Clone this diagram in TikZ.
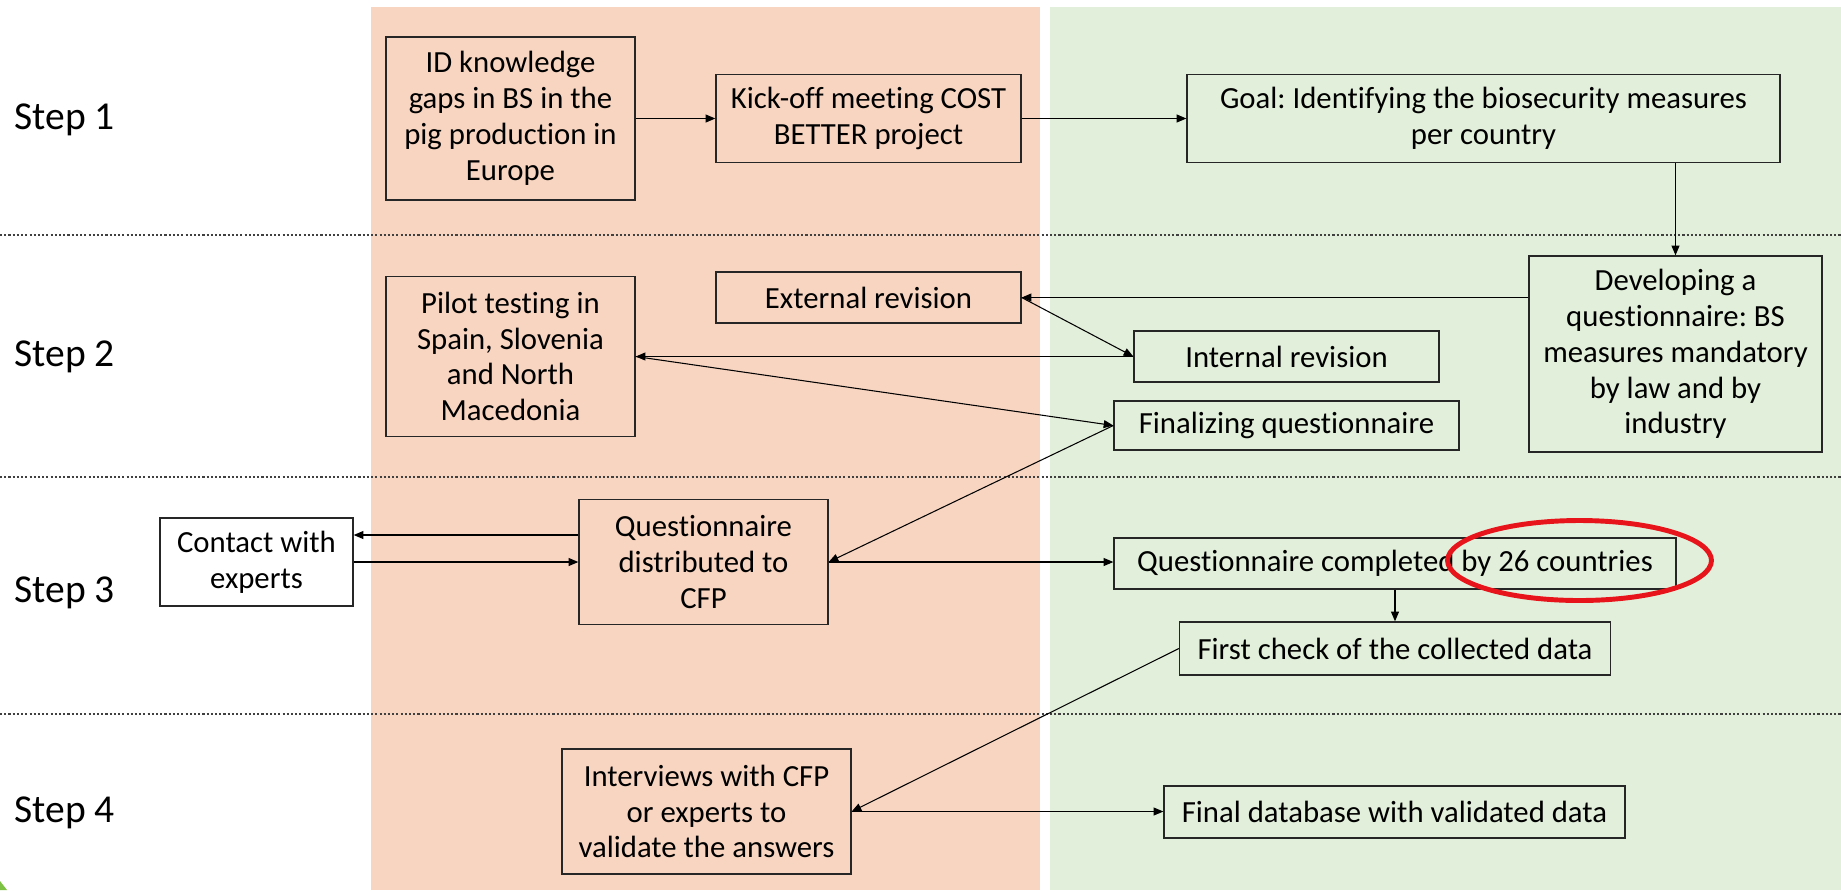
\documentclass[tikz,border=0pt]{standalone}
\usepackage{fontspec}
\setmainfont[Ligatures={NoCommon}]{Carlito}
\usetikzlibrary{positioning,calc,arrows.meta}
\definecolor{peachbg}{HTML}{F8D5C1}
\definecolor{sagebg}{HTML}{E2EFDA}
\definecolor{ringred}{HTML}{E8141B}
\definecolor{slidegreen}{HTML}{7DC242}
\frenchspacing

\begin{document}
\begin{tikzpicture}[x=0.02cm, y=-0.02cm,
  box/.style={draw=black!85, line width=0.8pt, align=center, inner sep=0pt,
    font=\fontsize{17.5}{20.4}\selectfont},
  arr/.style={line width=0.6pt, -{Triangle[length=5.5pt,width=4.5pt]}},
  sep/.style={line width=0.6pt, black!75, dash pattern=on 1.2pt off 1.2pt}]
  \useasboundingbox (0,0) rectangle (1841,890);

  % Background columns (peach: 371..1040, green: 1050..1841)
  \fill[peachbg] (371,7) rectangle (1040,890);
  \fill[sagebg] (1050,7) rectangle (1841,890);
  \fill[slidegreen] (0,881) -- (7,890) -- (0,890) -- cycle;

  % Step separators
  \foreach \ypos in {235, 477, 714} {
    \draw[sep] (0,\ypos) -- (1841,\ypos);
  }

  % Step labels
  \foreach \k/\ypos in {1/120, 2/357, 3/593, 4/813} {
    \node[anchor=west, inner sep=0pt, font=\fontsize{22.5}{27}\selectfont] (step\k) at (14,\ypos) {Step \k};
  }

  % Step 1
  \node[box, fill=peachbg, minimum width=4.98cm, minimum height=3.26cm] (idgaps) at (510.5,118.5)
    {ID knowledge\\gaps in BS in the\\pig production in\\Europe};
  \node[box, fill=peachbg, minimum width=6.1cm, minimum height=1.76cm] (kickoff) at (868.5,118.5)
    {Kick-off meeting COST\\BETTER project};
  \node[box, fill=sagebg, minimum width=11.86cm, minimum height=1.76cm] (goal) at (1483.5,118.5)
    {Goal: Identifying the biosecurity measures\\per country};

  % Step 2
  \node[box, fill=sagebg, minimum width=5.86cm, minimum height=3.92cm] (develop) at (1675.5,354)
    {Developing a\\questionnaire: BS\\measures mandatory\\by law and by\\industry};
  \node[box, fill=peachbg, minimum width=6.1cm, minimum height=1.02cm] (extrev) at (868.5,297.5)
    {External revision};
  \node[box, fill=sagebg, minimum width=6.1cm, minimum height=1.02cm] (intrev) at (1286.5,356.5)
    {Internal revision};
  \node[box, fill=peachbg, minimum width=4.98cm, minimum height=3.2cm] (pilot) at (510.5,356.5)
    {Pilot testing in\\Spain, Slovenia\\and North\\Macedonia};
  \node[box, fill=sagebg, minimum width=6.9cm, minimum height=0.98cm] (finalq) at (1286.5,425.5)
    {Finalizing questionnaire};

  % Step 3
  \node[box, fill=white, minimum width=3.86cm, minimum height=1.76cm] (contact) at (256.5,562)
    {Contact with\\experts};
  \node[box, fill=peachbg, minimum width=4.98cm, minimum height=2.5cm] (distrib) at (703.5,562)
    {Questionnaire\\distributed to\\CFP};
  \node[box, fill=sagebg, minimum width=11.24cm, minimum height=1.02cm] (completed) at (1395,563.5)
    {Questionnaire completed by 26 countries};
  \node[box, fill=sagebg, minimum width=8.62cm, minimum height=1.06cm] (firstcheck) at (1395,648.5)
    {First check of the collected data};

  % Step 4
  \node[box, fill=peachbg, minimum width=5.78cm, minimum height=2.5cm] (interviews) at (706.5,811.5)
    {Interviews with CFP\\or experts to\\validate the answers};
  \node[box, fill=sagebg, minimum width=9.22cm, minimum height=1.04cm] (finaldb) at (1394.5,812)
    {Final database with validated data};

  % Highlight
  \draw[ringred, line width=2.8pt] (1579.5,560.5) ellipse [x radius=2.64cm, y radius=0.8cm];

  % Connectors
  \draw[arr] (idgaps) -- (kickoff);
  \draw[arr] (kickoff) -- (goal);
  \draw[arr] (develop.north |- goal.south) -- (develop.north);
  \draw[arr] (develop.west |- extrev.east) -- (extrev.east);
  \draw[arr] (extrev.east) -- (intrev.west);
  \draw[arr] (intrev.west) -- (pilot.east);
  \draw[arr] (pilot.east) -- (finalq.west);
  \draw[arr] (finalq.west) -- (distrib.east);
  \draw[arr] ([yshift=0.54cm]distrib.west) -- ([yshift=0.54cm]contact.east);
  \draw[arr] (contact.east) -- (distrib.west);
  \draw[arr] (distrib.east) -- (distrib.east -| completed.west);
  \draw[arr] (completed.south) -- (firstcheck.north);
  \draw[arr] (firstcheck.west) -- (interviews.east);
  \draw[arr] (interviews.east) -- (interviews.east -| finaldb.west);
\end{tikzpicture}
\end{document}
